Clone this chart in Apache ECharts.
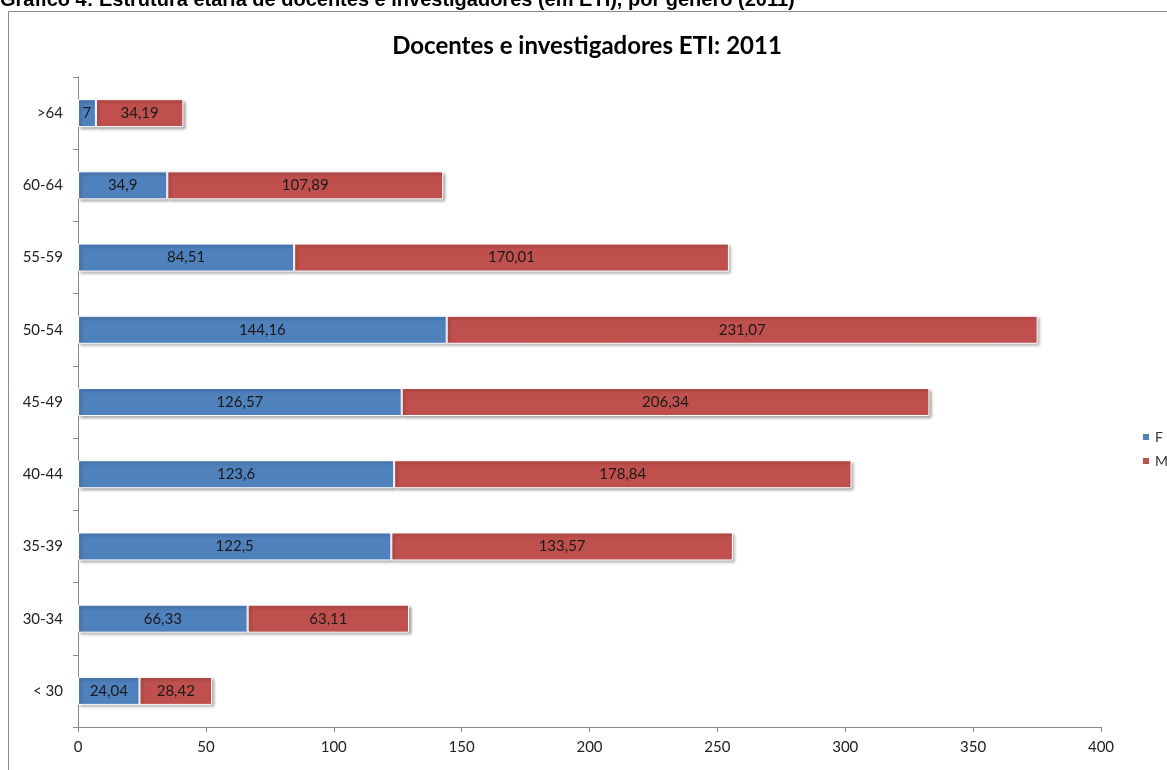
<!DOCTYPE html>
<html><head><meta charset="utf-8">
<script src="https://cdn.jsdelivr.net/npm/echarts@6/dist/echarts.min.js"></script>
<style>html,body{margin:0;padding:0;background:#fff}#c{width:1167px;height:770px}</style>
</head><body><div id="c"></div>
<script>
const categories = ['< 30','30-34','35-39','40-44','45-49','50-54','55-59','60-64','>64'];
const valuesF = [24.04,66.33,122.5,123.6,126.57,144.16,84.51,34.9,7];
const valuesM = [28.42,63.11,133.57,178.84,206.34,231.07,170.01,107.89,34.19];
const xTicks = [0,50,100,150,200,250,300,350,400];

const chart = echarts.init(document.getElementById('c'), null, {renderer:'canvas'});
const fmt = p => String(p.value).replace('.', ',');
const FONT = 'Lato, "Open Sans", sans-serif';
const labelStyle = {show:true, position:'inside', formatter:fmt, color:'#1a1a1a', fontSize:15, fontFamily:FONT};
const shadow = {shadowBlur:3, shadowColor:'rgba(0,0,0,0.35)', shadowOffsetX:2, shadowOffsetY:2, borderColor:'#fff', borderWidth:1};
chart.setOption({
  animation:false,
  title:{text:'Docentes e investigadores ETI: 2011', left:582, top:29, textAlign:'center',
    textStyle:{fontFamily:FONT, fontWeight:'bold', fontSize:24, color:'#000'}},
  graphic:[
    {type:'rect', shape:{x:8.5,y:11.5,width:1300,height:900}, style:{fill:null, stroke:'#8a8a8a', lineWidth:1}, z:-1},
    {type:'text', style:{x:0, y:10, verticalAlign:'bottom', text:'Gráfico 4: Estrutura etária de docentes e investigadores (em ETI), por género (2011)', font:'bold 20px "Liberation Sans", Arial, sans-serif', fill:'#000'}}
  ],
  legend:{orient:'vertical', left:1136, top:425, itemWidth:8, itemHeight:8, itemGap:10, icon:'rect',
    textStyle:{fontFamily:FONT, fontSize:14, color:'#333'}, data:['F','M']},
  grid:{left:78, right:66, top:77, bottom:43},
  xAxis:{type:'value', min:0, max:400, interval:50,
    axisLine:{show:true, lineStyle:{color:'#888'}}, axisTick:{show:true, length:5, lineStyle:{color:'#888'}},
    splitLine:{show:false},
    axisLabel:{margin:13, fontFamily:FONT, fontSize:15, color:'#222',
      formatter:v => xTicks.includes(v) ? String(v) : ''}},
  yAxis:{type:'category', data:categories,
    axisLine:{show:true, lineStyle:{color:'#888'}}, axisTick:{show:true, length:5, lineStyle:{color:'#888'}},
    axisLabel:{margin:15, fontFamily:FONT, fontSize:15, color:'#222'}},
  series:[
    {name:'F', type:'bar', stack:'t', data:valuesF, barWidth:28, itemStyle:Object.assign({color:'#4F81BD'}, shadow), label:labelStyle},
    {name:'M', type:'bar', stack:'t', data:valuesM, barWidth:28, itemStyle:Object.assign({color:'#C0504D'}, shadow), label:labelStyle}
  ]
});
</script></body></html>
